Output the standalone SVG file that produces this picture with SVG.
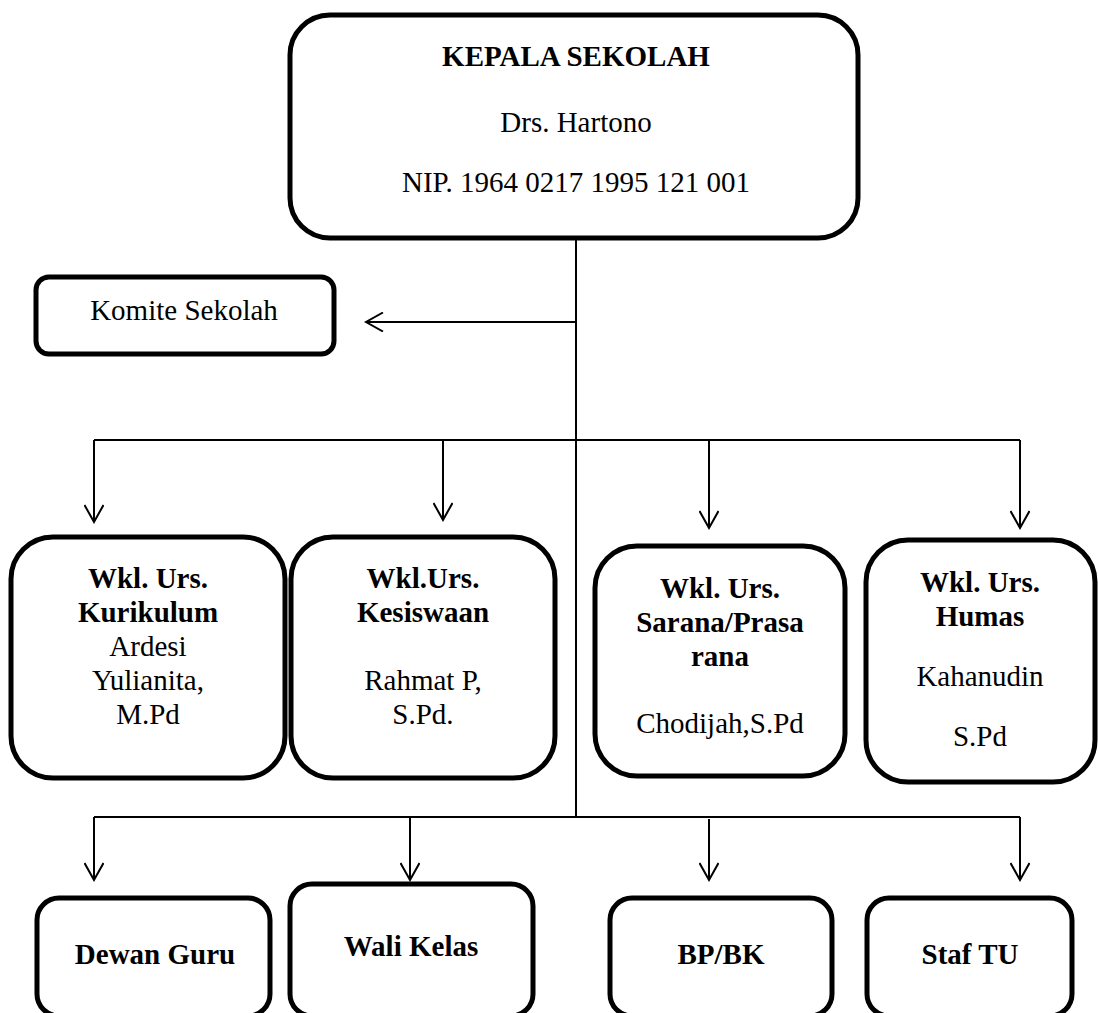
<svg xmlns="http://www.w3.org/2000/svg" width="1098" height="1013" viewBox="0 0 1098 1013">
<defs>
<style>
.box{fill:#fff;stroke:#000;stroke-width:5}
.ln{fill:none;stroke:#000;stroke-width:2}
text{font-family:"Liberation Serif","Times New Roman",serif;font-size:29px;fill:#000;text-anchor:middle}
.b{font-weight:bold}
</style>
<marker id="arr" viewBox="0 0 20 20" refX="18" refY="10" markerWidth="20" markerHeight="20" markerUnits="userSpaceOnUse" orient="auto">
<path d="M1,0.5 L18,10 L1,19.5" fill="none" stroke="#000" stroke-width="2"/>
</marker>
</defs>
<rect width="1098" height="1013" fill="#fff"/>
<g id="connectors">
<line class="ln" x1="576" y1="238" x2="576" y2="817"/>
<line class="ln" x1="576" y1="322" x2="366" y2="322" marker-end="url(#arr)"/>
<line class="ln" x1="94" y1="440" x2="1020" y2="440"/>
<line class="ln" x1="94" y1="440" x2="94" y2="522" marker-end="url(#arr)"/>
<line class="ln" x1="443" y1="440" x2="443" y2="520" marker-end="url(#arr)"/>
<line class="ln" x1="709" y1="440" x2="709" y2="528" marker-end="url(#arr)"/>
<line class="ln" x1="1020" y1="440" x2="1020" y2="528" marker-end="url(#arr)"/>
<line class="ln" x1="94" y1="817" x2="1020" y2="817"/>
<line class="ln" x1="94" y1="817" x2="94" y2="880" marker-end="url(#arr)"/>
<line class="ln" x1="410" y1="817" x2="410" y2="880" marker-end="url(#arr)"/>
<line class="ln" x1="709" y1="819" x2="709" y2="880" marker-end="url(#arr)"/>
<line class="ln" x1="1020" y1="817" x2="1020" y2="880" marker-end="url(#arr)"/>
</g>
<g id="kepala">
<rect class="box" x="290" y="15" width="568" height="223" rx="40"/>
<text class="b" x="576" y="66">KEPALA SEKOLAH</text>
<text x="576" y="132">Drs. Hartono</text>
<text x="576" y="192">NIP. 1964 0217 1995 121 001</text>
</g>
<g id="komite">
<rect class="box" x="36" y="277" width="298" height="77" rx="13"/>
<text x="184" y="320">Komite Sekolah</text>
</g>
<g id="kurikulum">
<rect class="box" x="11" y="537" width="274" height="241" rx="42"/>
<text class="b" x="148" y="588">Wkl. Urs.</text>
<text class="b" x="148" y="622">Kurikulum</text>
<text x="148" y="656">Ardesi</text>
<text x="148" y="690">Yulianita,</text>
<text x="148" y="724">M.Pd</text>
</g>
<g id="kesiswaan">
<rect class="box" x="291" y="537" width="264" height="241" rx="42"/>
<text class="b" x="423" y="588">Wkl.Urs.</text>
<text class="b" x="423" y="622">Kesiswaan</text>
<text x="423" y="690">Rahmat P,</text>
<text x="423" y="724">S.Pd.</text>
</g>
<g id="sarana">
<rect class="box" x="595" y="546" width="250" height="230" rx="42"/>
<text class="b" x="720" y="598">Wkl. Urs.</text>
<text class="b" x="720" y="632">Sarana/Prasa</text>
<text class="b" x="720" y="666">rana</text>
<text x="720" y="733">Chodijah,S.Pd</text>
</g>
<g id="humas">
<rect class="box" x="866" y="540" width="229" height="242" rx="42"/>
<text class="b" x="980" y="592">Wkl. Urs.</text>
<text class="b" x="980" y="626">Humas</text>
<text x="980" y="686">Kahanudin</text>
<text x="980" y="746">S.Pd</text>
</g>
<g id="dewan-guru">
<rect class="box" x="37" y="898" width="233" height="118" rx="22"/>
<text class="b" x="155" y="964">Dewan Guru</text>
</g>
<g id="wali-kelas">
<rect class="box" x="290" y="884" width="243" height="132" rx="22"/>
<text class="b" x="411" y="956">Wali Kelas</text>
</g>
<g id="bp-bk">
<rect class="box" x="610" y="898" width="222" height="118" rx="22"/>
<text class="b" x="721" y="964">BP/BK</text>
</g>
<g id="staf-tu">
<rect class="box" x="867" y="898" width="205" height="118" rx="22"/>
<text class="b" x="970" y="964">Staf TU</text>
</g>
</svg>
